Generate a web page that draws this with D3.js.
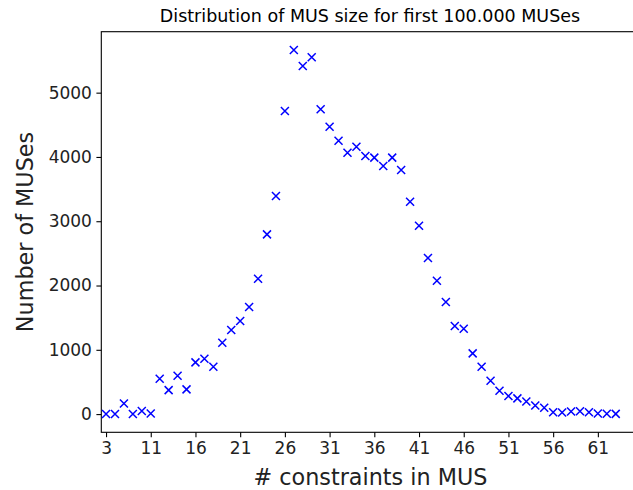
<!DOCTYPE html>
<html>
<head>
<meta charset="utf-8">
<script src="https://cdn.jsdelivr.net/npm/d3@7"></script>
<style>
  body { margin: 0; background: #fff; }
  svg { display: block; font-family: "DejaVu Sans", sans-serif; }
</style>
</head>
<body>
<svg id="chart" width="633" height="490"></svg>
<script>
// MUS sizes and how often each one was found
const sizes = [6, 7, 8, 9, 10, 11, 12, 13, 14, 15, 16, 17, 18, 19, 20, 21, 22, 23, 24, 25,
    26, 27, 28, 29, 30, 31, 32, 33, 34, 35, 36, 37, 38, 39, 40, 41, 42, 43, 44, 45,
    46, 47, 48, 49, 50, 51, 52, 53, 54, 55, 56, 57, 58, 59, 60, 61, 62, 63];
const counts = [0, 0, 166, 0, 47, 8, 550, 373, 596, 384, 804, 861, 737, 1110, 1307, 1447, 1665, 2105, 2796, 3392,
    4715, 5665, 5416, 5551, 4742, 4471, 4253, 4066, 4160, 4015, 3989, 3859, 3989, 3797, 3304, 2930, 2428, 2075, 1743, 1369,
    1328, 944, 737, 519, 363, 280, 244, 197, 135, 98, 30, 25, 40, 45, 30, 8, 5, 3];

const xTickValues = [6, 11, 16, 21, 26, 31, 36, 41, 46, 51, 56, 61];
const xTickLabels = ["3", "11", "16", "21", "26", "31", "36", "41", "46", "51", "56", "61"];
const yTickValues = [0, 1000, 2000, 3000, 4000, 5000];

const data = sizes.map((s, i) => ({ size: s, count: counts[i] }));

const svg = d3.select("#chart");

const plotLeft = 101.3, plotRight = 639, plotTop = 31.7, plotBottom = 432.3;

const x = d3.scaleLinear()
    .domain([5.47, 65.6])
    .range([plotLeft, plotRight]);

// matplotlib style 5% margins on y
const yMax = d3.max(counts), yMin = d3.min(counts);
const pad = (yMax - yMin) * 0.05;
const y = d3.scaleLinear()
    .domain([yMin - pad, yMax + pad])
    .range([plotBottom, plotTop]);

const xAxis = svg.append("g")
    .attr("transform", `translate(0,${plotBottom})`)
    .call(d3.axisBottom(x)
        .tickValues(xTickValues)
        .tickFormat((d, i) => xTickLabels[i])
        .tickSize(4.9)
        .tickPadding(4.5)
        .tickSizeOuter(0));

const yAxis = svg.append("g")
    .attr("transform", `translate(${plotLeft},0)`)
    .call(d3.axisLeft(y)
        .tickValues(yTickValues)
        .tickFormat(d3.format("d"))
        .tickSize(4.9)
        .tickPadding(4.5)
        .tickSizeOuter(0));

[xAxis, yAxis].forEach(g => {
    g.selectAll("text")
        .attr("font-family", "DejaVu Sans, sans-serif")
        .attr("font-size", 17)
        .attr("fill", "#222");
    g.selectAll("line").attr("stroke", "#000").attr("stroke-width", 1.1);
    g.select(".domain").remove();
});

// frame
svg.append("rect")
    .attr("x", plotLeft)
    .attr("y", plotTop)
    .attr("width", plotRight - plotLeft)
    .attr("height", plotBottom - plotTop)
    .attr("fill", "none")
    .attr("stroke", "#000")
    .attr("stroke-width", 1.1);

// x markers
const m = 4;
svg.append("g")
    .selectAll("path")
    .data(data)
    .join("path")
    .attr("transform", d => `translate(${x(d.size)},${y(d.count)})`)
    .attr("d", `M${-m},${-m}L${m},${m}M${-m},${m}L${m},${-m}`)
    .attr("stroke", "#0000ff")
    .attr("stroke-width", 1.5)
    .attr("fill", "none");

svg.append("text")
    .attr("x", 370)
    .attr("y", 22)
    .attr("text-anchor", "middle")
    .attr("font-size", 17.5)
    .attr("fill", "#000")
    .text("Distribution of MUS size for first 100.000 MUSes");

svg.append("text")
    .attr("x", 370.5)
    .attr("y", 485)
    .attr("text-anchor", "middle")
    .attr("font-size", 22.3)
    .attr("fill", "#222")
    .text("# constraints in MUS");

svg.append("text")
    .attr("transform", `translate(33,${(plotTop + plotBottom) / 2}) rotate(-90)`)
    .attr("text-anchor", "middle")
    .attr("font-size", 22.3)
    .attr("fill", "#222")
    .text("Number of MUSes");
</script>
</body>
</html>
